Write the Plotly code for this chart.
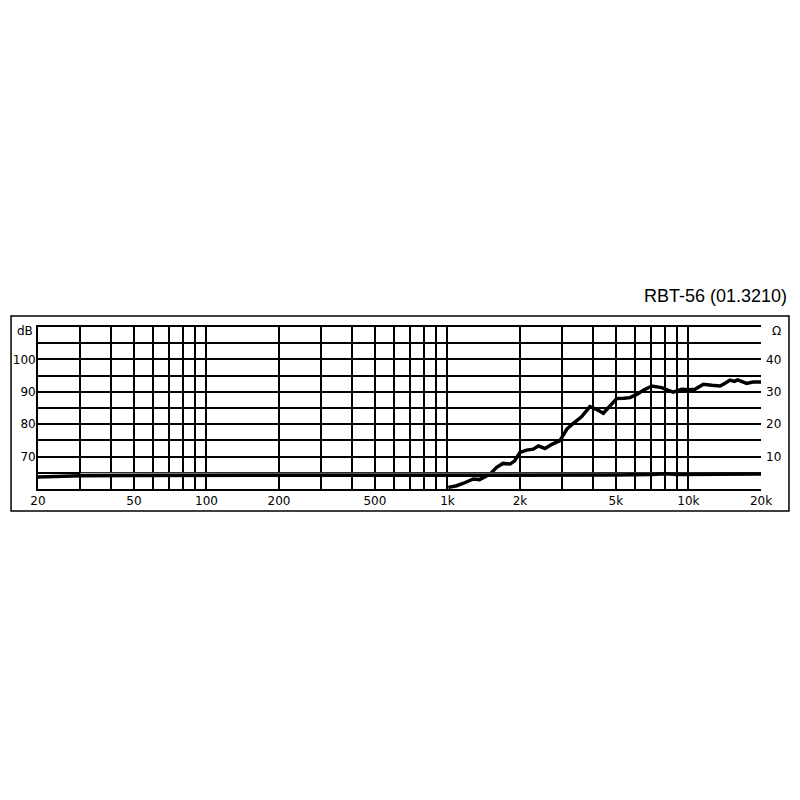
import plotly.graph_objects as go

# frequency response (dB SPL)
fr_freq = [1008, 1092, 1160, 1280, 1358, 1502, 1600, 1700, 1820, 1900, 2000, 2130, 2270,
           2382, 2540, 2710, 2930, 3130, 3300, 3435, 3600, 3900, 4150, 4434, 4700, 5036,
           5400, 5720, 6100, 6500, 7040, 7740, 8200, 8650, 9370, 10000, 10650, 11530,
           12500, 13530, 14300, 14870, 15500, 16000, 17440, 18500, 20000]
fr_db = [60.5, 61.0, 61.7, 63.1, 62.9, 64.6, 66.7, 67.9, 67.7, 68.7, 71.3, 72.0, 72.3,
         73.3, 72.5, 73.8, 74.9, 78.5, 80.0, 81.0, 82.3, 85.4, 84.6, 83.4, 85.5, 87.9,
         88.0, 88.2, 89.2, 90.5, 91.8, 91.3, 90.5, 89.9, 90.8, 90.6, 90.8, 92.3,
         92.0, 91.8, 92.8, 93.6, 93.2, 93.7, 92.6, 93.0, 93.0]

# impedance (ohm)
z_freq = [20, 25, 30, 50, 100, 200, 500, 1000, 2000, 5000, 7000, 8000, 9000, 10000, 15000, 20000]
z_ohm = [3.7, 3.9, 4.1, 4.2, 4.2, 4.2, 4.2, 4.2, 4.2, 4.3, 4.5, 4.7, 4.5, 4.5, 4.6, 4.6]
# faint companion trace just above the impedance curve
z2_freq = [30, 100, 1000, 5000, 20000]
z2_ohm = [4.8, 4.8, 4.8, 4.8, 4.8]

x_grid = [m * 10 ** e for e in (1, 2, 3) for m in range(1, 10)] + [10000, 20000]
x_grid = [v for v in x_grid if v >= 20]
x_labels = {20: '20', 50: '50', 100: '100', 200: '200', 500: '500', 1000: '1k',
            2000: '2k', 5000: '5k', 10000: '10k', 20000: '20k'}
x_text = [x_labels.get(v, '') for v in x_grid]

db_grid = list(range(60, 111, 5))
db_text = [str(v) if v in (70, 80, 90, 100) else '' for v in db_grid]
ohm_ticks = [10, 20, 30, 40]

font = dict(family='DejaVu Sans', size=12, color='black')

fig = go.Figure()
fig.add_trace(go.Scatter(x=z2_freq, y=z2_ohm, mode='lines', yaxis='y2',
                         line=dict(color='#b0b0b0', width=1.5), name='Z2'))
fig.add_trace(go.Scatter(x=fr_freq, y=fr_db, mode='lines',
                         line=dict(color='black', width=3.5), name='SPL'))
fig.add_trace(go.Scatter(x=z_freq, y=z_ohm, mode='lines', yaxis='y2',
                         line=dict(color='black', width=3.5), name='Z'))

# the page body adds an 8px offset, so margins are shifted by that amount
fig.update_layout(
    width=800, height=800,
    margin=dict(l=30, r=47, t=319, b=319, autoexpand=False),
    paper_bgcolor='white', plot_bgcolor='white',
    showlegend=False,
    font=font,
    xaxis=dict(type='log', range=[1.30103, 4.30103], tickvals=x_grid, ticktext=x_text,
               showgrid=True, gridcolor='black', gridwidth=1.7, ticks='',
               showline=True, linecolor='black', linewidth=1.7, mirror=True,
               tickfont=font, automargin=False),
    yaxis=dict(range=[60, 110], tickvals=db_grid, ticktext=db_text,
               showgrid=True, gridcolor='black', gridwidth=1.7, zeroline=False,
               ticks='', showline=True, linecolor='black', linewidth=1.7,
               tickfont=font, ticklabelstandoff=-2, automargin=False),
    yaxis2=dict(range=[0, 50], overlaying='y', side='right', tickvals=ohm_ticks,
                showgrid=False, zeroline=False, ticks='', tickfont=font,
                ticklabelstandoff=4, automargin=False),
)

fig.add_annotation(x=0, xref='paper', y=108.9, yref='y', text='dB', showarrow=False,
                   xanchor='right', xshift=-3, font=font)
fig.add_annotation(x=1, xref='paper', y=108.9, yref='y', text='Ω', showarrow=False,
                   xanchor='left', xshift=9, font=font)
fig.add_annotation(x=1.0387, xref='paper', y=1.191, yref='paper', text='RBT-56 (01.3210)',
                   showarrow=False, xanchor='right', yanchor='middle',
                   font=dict(family='Liberation Sans', size=18, color='black'))

# outer frame
fig.add_shape(type='rect', xref='paper', yref='paper', x0=-0.0373, x1=1.0387,
              y0=-0.1358, y1=1.068, line=dict(color='black', width=1.5))

fig.write_html('out.html')
